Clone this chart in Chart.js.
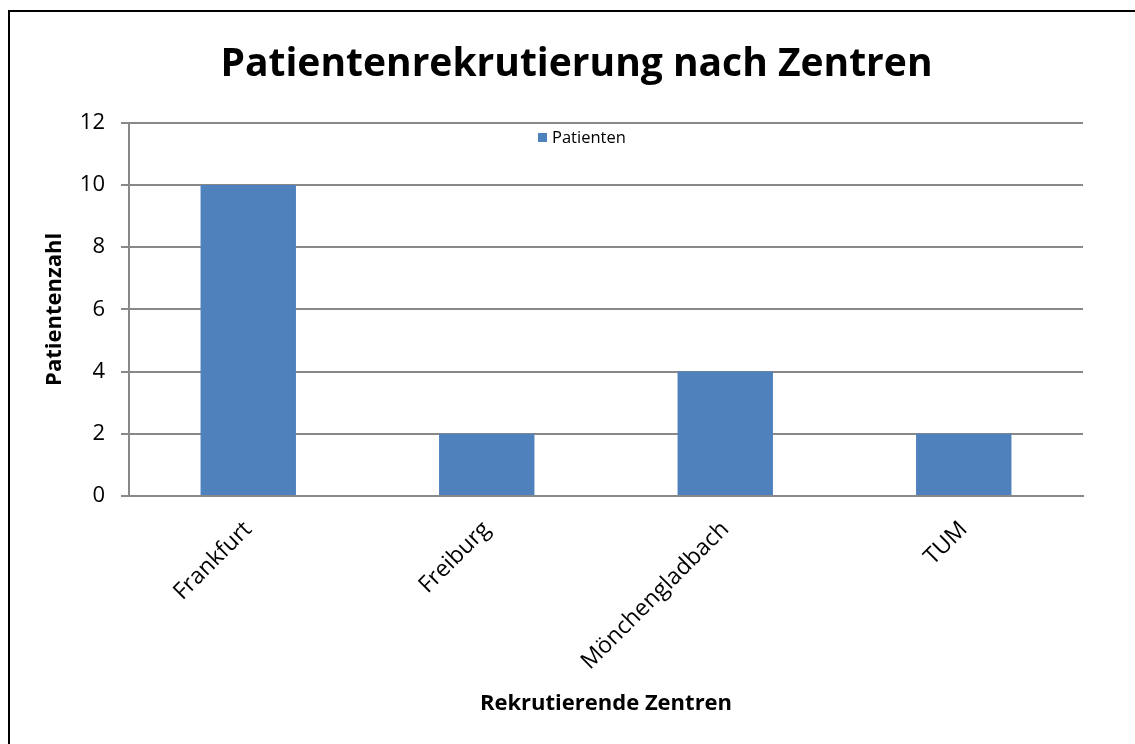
<!DOCTYPE html>
<html>
<head>
<meta charset="utf-8">
<script src="https://cdn.jsdelivr.net/npm/chart.js@4/dist/chart.umd.min.js"></script>
<style>
    html, body { margin: 0; padding: 0; background: #fff; overflow: hidden; }
    #frame { position: absolute; left: 8px; top: 10px; width: 1200px; height: 800px;
             border-left: 2px solid #000; border-top: 2px solid #000; }
    #wrap { position: absolute; left: 0; top: 0; width: 1135px; height: 744px; }
</style>
</head>
<body>
<div id="frame"></div>
<div id="wrap"><canvas id="centerChart"></canvas></div>
<script>

var centers = ["Frankfurt", "Freiburg", "Mönchengladbach", "TUM"];
var patients = [10, 2, 4, 2];
var seriesName = "Patienten";

var fontFamily = "'Open Sans', sans-serif";
var gridColor = "#888888";

// legend sits inside the plot area, just under the top gridline
var innerLegend = {
    id: 'innerLegend',
    afterDraw: function (chart) {
        var ctx = chart.ctx;
        var ds = chart.data.datasets[0];
        ctx.save();
        ctx.fillStyle = ds.backgroundColor;
        ctx.fillRect(538, 133, 9, 9);
        ctx.fillStyle = '#000';
        ctx.font = "16.5px " + fontFamily;
        ctx.textBaseline = 'middle';
        ctx.textAlign = 'left';
        ctx.fillText(ds.label, 552, 138);
        ctx.restore();
    }
};

function createBarChart(elementId) {
    var ctx = document.getElementById(elementId);
    return new Chart(ctx, {
        type: 'bar',
        data: {
            labels: centers,
            datasets: [{
                label: seriesName,
                data: patients,
                backgroundColor: '#4F81BD',
                barPercentage: 0.4,
                categoryPercentage: 1.0
            }]
        },
        plugins: [innerLegend],
        options: {
            responsive: true,
            maintainAspectRatio: false,
            animation: false,
            layout: {
                padding: { left: 18, right: 0, top: 10, bottom: 0 }
            },
            plugins: {
                title: {
                    display: true,
                    text: 'Patientenrekrutierung nach Zentren',
                    color: '#000',
                    font: { family: fontFamily, size: 39, weight: 'bold' },
                    padding: { top: 31, bottom: 35 }
                },
                legend: { display: false },
                tooltip: { enabled: false }
            },
            scales: {
                x: {
                    afterFit: function (scale) { scale.height = 248; },
                    grid: { display: false, drawTicks: false },
                    border: { color: gridColor, width: 2 },
                    ticks: {
                        color: '#000',
                        minRotation: 45,
                        maxRotation: 45,
                        padding: 20,
                        font: { family: fontFamily, size: 23 }
                    },
                    title: {
                        display: true,
                        text: 'Rekrutierende Zentren',
                        color: '#000',
                        font: { family: fontFamily, size: 22, weight: 'bold' },
                        padding: { bottom: 27 }
                    }
                },
                y: {
                    min: 0,
                    max: 12,
                    afterFit: function (scale) { scale.width = 111; },
                    grid: { color: gridColor, lineWidth: 2, tickLength: 8 },
                    border: { color: gridColor, width: 2 },
                    ticks: {
                        stepSize: 2,
                        color: '#000',
                        padding: 16,
                        font: { family: fontFamily, size: 22 }
                    },
                    title: {
                        display: true,
                        text: 'Patientenzahl',
                        color: '#000',
                        font: { family: fontFamily, size: 22, weight: 'bold' },
                        padding: { top: 24 }
                    }
                },
                // empty right margin so the plot ends where the reference does
                yRight: {
                    position: 'right',
                    afterFit: function (scale) { scale.width = 52; },
                    grid: { display: false, drawTicks: false },
                    border: { display: false },
                    ticks: { display: false }
                }
            }
        }
    });
}

(function () {
    createBarChart("centerChart");
})();

</script>
</body>
</html>
